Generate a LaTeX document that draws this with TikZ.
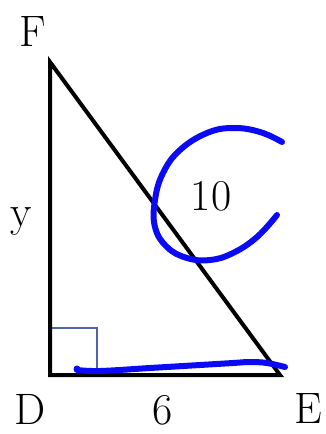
\documentclass[tikz,border=0pt]{standalone}
\usepackage{fontspec}
\usepackage{tikz}
\usetikzlibrary{positioning}

\definecolor{penblue}{RGB}{10,10,245}
\definecolor{boxblue}{RGB}{80,100,170}

\tikzset{
  side/.style={line width=4pt, black},
  pen/.style={line width=6pt, penblue, line cap=round, line join=round},
  lbl/.style={font=\fontsize{44}{52}\selectfont, inner sep=0pt}
}

\begin{document}
\begin{tikzpicture}[x=1pt, y=-1pt]
    \useasboundingbox (0,0) rectangle (326,434);
    % ---- Triangle ----
    \coordinate (D) at (50,375);
    \coordinate (F) at (50,62);
    \coordinate (E) at (280,375);
    \draw[boxblue, line width=1.5pt] (50,328) -- (97,328) -- (97,375);
    \draw[side] (D) -- (F) -- (E) -- cycle;
    % ---- Labels ----
    \node[lbl] (labF) at (33,32) {F};
    \node[lbl] (labD) at (30,409) {D};
    \node[lbl] (labE) at (308,409) {E};
    \node[lbl] (laby) at (21,222) {y};
    \node[lbl] (lab6) at (163,410) {6};
    \node[lbl] (lab10) at (211,196) {10};
    % ---- Pen marks ----
    \draw[pen] plot[smooth, tension=0.7] coordinates {(282,142) (260,132) (233,128) (207,133) (180,150) (163,173) (155,200) (155,227) (167,247) (187,258) (210,260) (233,253) (257,237) (277,215)};
    \draw[pen] plot[smooth, tension=0.6] coordinates {(77,370) (100,371) (150,368) (200,365) (233,363) (250,362) (267,363) (285,367)};
    \fill[penblue] (77,369) circle (3.5);
\end{tikzpicture}
\end{document}
